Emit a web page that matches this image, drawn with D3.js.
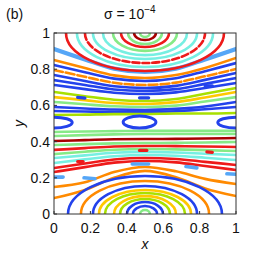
<!DOCTYPE html>
<html>
<head>
<meta charset="utf-8">
<script src="https://cdn.jsdelivr.net/npm/d3@7"></script>
<style>
  body { margin: 0; background: #fff; }
  svg { display: block; }
  text { font-family: "Liberation Sans", Arial, sans-serif; fill: #111; }
</style>
</head>
<body>
<svg id="chart"></svg>
<script>
// Colours used by the orbits
const C = {
  bl: "#2342ec", lb: "#55a6f7", cy: "#76efe2", gr: "#86ea86", yg: "#a8e000",
  ye: "#ffc800", or: "#ff8a00", rd: "#ee1a1a", dr: "#a80000"
};

// x positions at which the open streamlines were read
const xCols = [0, 0.17, 0.33, 0.5, 0.67, 0.83, 1];

// upper band: lines sagging towards x = 0.5
const upperColors = ["lb", "or", "bl", "or", "bl", "bl", "bl", "yg", "ye", "gr", "bl", "bl", "yg"];
const upperLines = [
  [0.912, 0.854, 0.803, 0.785, 0.803, 0.854, 0.912],
  [0.851, 0.806, 0.766, 0.751, 0.768, 0.807, 0.862],
  [0.823, 0.783, 0.748, 0.735, 0.750, 0.789, 0.834],
  [0.796, 0.758, 0.725, 0.713, 0.726, 0.761, 0.801],
  [0.768, 0.735, 0.706, 0.696, 0.708, 0.741, 0.779],
  [0.740, 0.713, 0.688, 0.680, 0.690, 0.719, 0.751],
  [0.713, 0.690, 0.670, 0.663, 0.672, 0.696, 0.724],
  [0.674, 0.651, 0.631, 0.624, 0.635, 0.664, 0.696],
  [0.646, 0.629, 0.613, 0.608, 0.618, 0.644, 0.674],
  [0.619, 0.606, 0.595, 0.591, 0.599, 0.622, 0.646],
  [0.591, 0.583, 0.577, 0.575, 0.581, 0.594, 0.619],
  [0.569, 0.566, 0.564, 0.564, 0.568, 0.579, 0.591],
  [0.547, 0.549, 0.552, 0.552, 0.555, 0.555, 0.558]
];
const upperDashed = [3];

// lower band: lines arching towards x = 0.5
const lowerColors = ["gr", "gr", "dr", "gr", "rd", "gr", "cy", "cy", "rd", "rd", "or", "or"];
const lowerLines = [
  [0.453, 0.456, 0.458, 0.459, 0.459, 0.459, 0.459],
  [0.431, 0.436, 0.440, 0.442, 0.442, 0.442, 0.442],
  [0.403, 0.408, 0.413, 0.414, 0.415, 0.417, 0.420],
  [0.381, 0.386, 0.390, 0.392, 0.393, 0.395, 0.398],
  [0.354, 0.364, 0.373, 0.376, 0.375, 0.373, 0.370],
  [0.331, 0.344, 0.355, 0.359, 0.357, 0.353, 0.348],
  [0.309, 0.324, 0.338, 0.343, 0.340, 0.333, 0.326],
  [0.282, 0.302, 0.319, 0.326, 0.322, 0.311, 0.298],
  [0.254, 0.279, 0.301, 0.309, 0.304, 0.288, 0.271],
  [0.232, 0.259, 0.284, 0.293, 0.285, 0.265, 0.243],
  [0.149, 0.175, 0.232, 0.260, 0.236, 0.194, 0.166],
  [0.088, 0.133, 0.200, 0.238, 0.203, 0.141, 0.099]
];

// closed orbits hanging from the top (centre x = 0.5): half-width, depth
const topArcColors = ["gr", "dr", "gr", "rd", "gr", "cy", "cy", "rd", "cy", "rd"];
const topArcWidth = [0.027, 0.060, 0.093, 0.132, 0.176, 0.231, 0.286, 0.330, 0.374, 0.434];
const topArcDepth = [0.022, 0.039, 0.061, 0.077, 0.099, 0.122, 0.144, 0.166, 0.188, 0.210];
const topArcDashed = [7];

// closed orbits standing on the bottom (centre x = 0.5)
const botArcColors = ["gr", "bl", "bl", "yg", "ye", "yg", "ye", "bl", "or", "bl"];
const botArcWidth = [0.027, 0.066, 0.099, 0.137, 0.170, 0.220, 0.253, 0.286, 0.352, 0.423];
const botArcDepth = [0.022, 0.044, 0.066, 0.083, 0.099, 0.116, 0.133, 0.155, 0.182, 0.210];

// cat's-eye islands around y = 0.5: cx, cy, rx, ry
const eyes = [
  [0.47, 0.508, 0.090, 0.033],
  [0.0, 0.505, 0.100, 0.030],
  [1.0, 0.505, 0.100, 0.030]
];

// small island chains, as short strokes: x0, y0, x1, y1
const blueIslands = [[0.13, 0.644, 0.17, 0.640], [0.47, 0.642, 0.52, 0.642], [0.83, 0.708, 0.87, 0.708]];
const lbIslands = [[0.0, 0.204, 0.05, 0.204], [0.165, 0.200, 0.225, 0.195], [0.43, 0.276, 0.52, 0.276],
                   [0.725, 0.262, 0.785, 0.255], [0.95, 0.222, 1.0, 0.220]];
const redIslands = [[0.13, 0.290, 0.16, 0.290], [0.47, 0.351, 0.51, 0.351], [0.84, 0.343, 0.87, 0.340]];

const ticks = [0, 0.2, 0.4, 0.6, 0.8, 1];
const tickLabels = ["0", "0.2", "0.4", "0.6", "0.8", "1"];

const width = 266, height = 254;
const svg = d3.select("#chart").attr("width", width).attr("height", height);

const x = d3.scaleLinear().domain([0, 1]).range([54, 236]);
const y = d3.scaleLinear().domain([0, 1]).range([214, 33]);

svg.append("clipPath").attr("id", "plotClip")
  .append("rect").attr("x", x(0)).attr("y", y(1))
  .attr("width", x(1) - x(0)).attr("height", y(0) - y(1));

const g = svg.append("g").attr("clip-path", "url(#plotClip)")
  .attr("fill", "none").attr("stroke-linecap", "round");

const line = d3.line().x((d, i) => x(xCols[i])).y(d => y(d)).curve(d3.curveMonotoneX);

g.selectAll("path.upper").data(upperLines).join("path")
  .attr("class", "upper")
  .attr("d", line)
  .attr("stroke", (d, i) => C[upperColors[i]])
  .attr("stroke-width", (d, i) => i === 0 ? 4.2 : 2.6)
  .attr("stroke-dasharray", (d, i) => upperDashed.includes(i) ? "9,3" : null);

g.selectAll("path.lower").data(lowerLines).join("path")
  .attr("class", "lower")
  .attr("d", line)
  .attr("stroke", (d, i) => C[lowerColors[i]])
  .attr("stroke-width", 2.6);

// half ellipse from a boundary
function arcPath(a, depth, base, sweep) {
  const rx = x(a) - x(0);
  const ry = Math.abs(y(depth) - y(0));
  return `M${x(0.5 - a)},${y(base)}A${rx},${ry} 0 0 ${sweep} ${x(0.5 + a)},${y(base)}`;
}

g.selectAll("path.toparc").data(topArcWidth).join("path")
  .attr("class", "toparc")
  .attr("d", (a, i) => arcPath(a, topArcDepth[i], 1, 0))
  .attr("stroke", (d, i) => C[topArcColors[i]])
  .attr("stroke-width", 2.6)
  .attr("stroke-dasharray", (d, i) => topArcDashed.includes(i) ? "7,3" : null);

g.selectAll("path.botarc").data(botArcWidth).join("path")
  .attr("class", "botarc")
  .attr("d", (a, i) => arcPath(a, botArcDepth[i], 0, 1))
  .attr("stroke", (d, i) => C[botArcColors[i]])
  .attr("stroke-width", 2.6);

g.selectAll("ellipse.eye").data(eyes).join("ellipse")
  .attr("class", "eye")
  .attr("cx", d => x(d[0])).attr("cy", d => y(d[1]))
  .attr("rx", d => x(d[2]) - x(0)).attr("ry", d => y(0) - y(d[3]))
  .attr("stroke", C.bl).attr("stroke-width", 3);

function strokes(data, color, w) {
  g.append("g").selectAll("line").data(data).join("line")
    .attr("x1", d => x(d[0])).attr("y1", d => y(d[1]))
    .attr("x2", d => x(d[2])).attr("y2", d => y(d[3]))
    .attr("stroke", color).attr("stroke-width", w);
}
strokes(blueIslands, C.bl, 3.2);
strokes(lbIslands, C.lb, 3.6);
strokes(redIslands, C.rd, 3.2);

// axes box
const axes = svg.append("g");
axes.append("rect").attr("x", x(0)).attr("y", y(1))
  .attr("width", x(1) - x(0)).attr("height", y(0) - y(1))
  .attr("fill", "none").attr("stroke", "#333").attr("stroke-width", 1);

axes.selectAll("line.xt").data(ticks).join("line")
  .attr("x1", d => x(d)).attr("x2", d => x(d))
  .attr("y1", y(0)).attr("y2", y(0) - 3).attr("stroke", "#333");
axes.selectAll("line.yt").data(ticks).join("line")
  .attr("y1", d => y(d)).attr("y2", d => y(d))
  .attr("x1", x(0)).attr("x2", x(0) + 3).attr("stroke", "#333");

axes.selectAll("text.xl").data(ticks).join("text")
  .attr("x", d => x(d)).attr("y", 233)
  .attr("text-anchor", "middle").attr("font-size", 14)
  .text((d, i) => tickLabels[i]);
axes.selectAll("text.yl").data(ticks).join("text")
  .attr("x", 50).attr("y", d => y(d) + 5)
  .attr("text-anchor", "end").attr("font-size", 14)
  .text((d, i) => tickLabels[i]);

svg.append("text").attr("x", x(0.5)).attr("y", 249)
  .attr("text-anchor", "middle").attr("font-size", 14).attr("font-style", "italic")
  .text("x");
svg.append("text").attr("transform", `translate(24,${y(0.5)}) rotate(-90)`)
  .attr("text-anchor", "middle").attr("font-size", 14).attr("font-style", "italic")
  .text("y");

const title = svg.append("text").attr("x", 104).attr("y", 19).attr("font-size", 14);
title.append("tspan").text("σ = 10");
title.append("tspan").attr("dy", -6).attr("font-size", 10).text("−4");

svg.append("text").attr("x", 6).attr("y", 19).attr("font-size", 14).text("(b)");
</script>
</body>
</html>
